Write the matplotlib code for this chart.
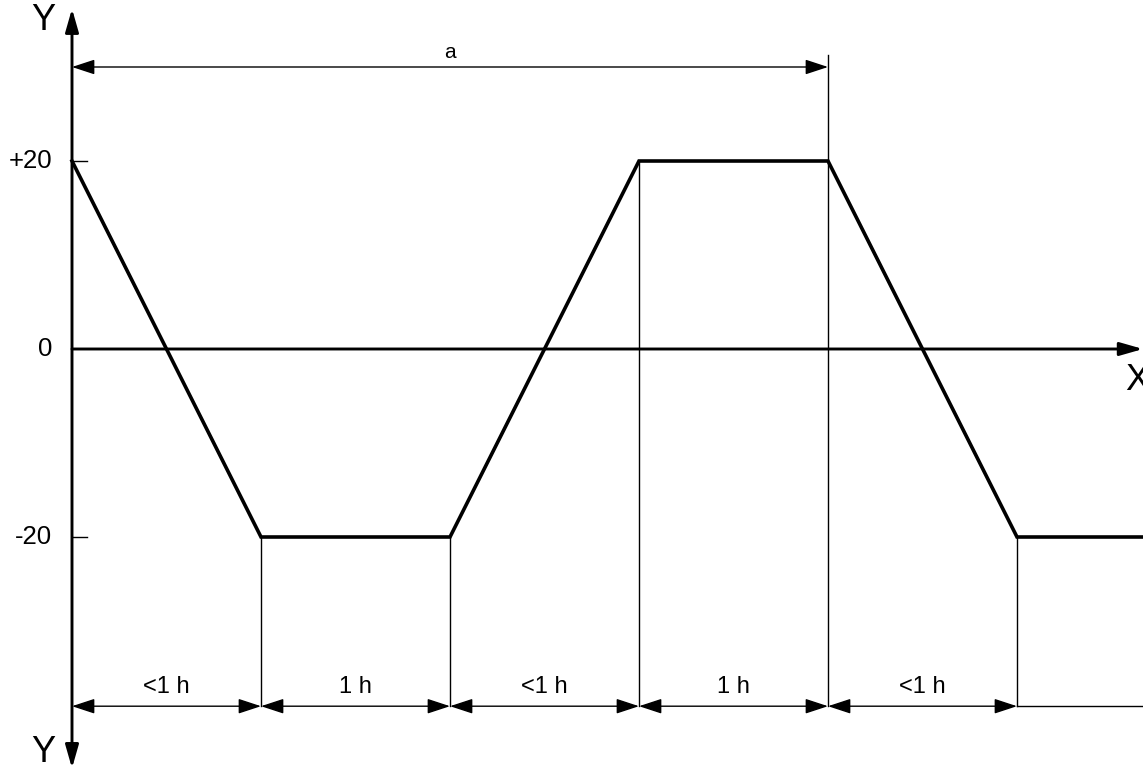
import matplotlib
matplotlib.use("Agg")
import matplotlib.pyplot as plt

plt.rcParams['font.family'] = ['Liberation Sans', 'DejaVu Sans']

# Data (time in hours, temperature)
t_points = [0, 1, 2, 3, 4, 5, 6]
y_points = [20, -20, -20, 20, 20, -20, -20]
ytick_values = [20, 0, -20]
ytick_labels = ['+20', '0', '-20']
dim_bounds = [0, 1, 2, 3, 4, 5]
dim_labels = ['<1 h', '1 h', '<1 h', '1 h', '<1 h']
a_span = [0, 4]
a_label = 'a'

fig = plt.figure(figsize=(11.43, 7.72), dpi=100)
ax = fig.add_axes([0, 0, 1, 1])
ax.set_xlim(-72/189, (1143-72)/189)
ax.set_ylim((349-772)/9.4, 349/9.4)
ax.axis('off')

y_dim = -38
y_a = 30
x_right = (1143-72)/189

axis_arrow = 'head_length=0.7,head_width=0.2'
dim_arrow = 'head_length=0.7,head_width=0.23'

# main curve
ax.plot(t_points, y_points, color='black', lw=2.6, solid_joinstyle='miter', zorder=5)

# axes
ax.annotate('', xy=(0, 36.2), xytext=(0, -44.6),
            arrowprops=dict(arrowstyle='<|-|>,' + axis_arrow, lw=2.1,
                            color='black', shrinkA=0, shrinkB=0, mutation_scale=20))
ax.annotate('', xy=(x_right, 0), xytext=(0, 0),
            arrowprops=dict(arrowstyle='-|>,' + axis_arrow, lw=2.1,
                            color='black', shrinkA=0, shrinkB=0, mutation_scale=20))

# ticks
for v, lab in zip(ytick_values, ytick_labels):
    if v != 0:
        ax.plot([0, 15/189], [v, v], color='black', lw=1)
    ax.text(-20/189, v, lab, ha='right', va='center', fontsize=18.5)

# extension lines
for tx, ty in zip(t_points[1:6], y_points[1:6]):
    ax.plot([tx, tx], [ty, y_dim], color='black', lw=1)
ax.plot([a_span[1], a_span[1]], [y_a + 1.3, 20], color='black', lw=1)

# bottom dimension arrows
for i, lab in enumerate(dim_labels):
    x0, x1 = dim_bounds[i], dim_bounds[i+1]
    ax.annotate('', xy=(x1, y_dim), xytext=(x0, y_dim),
                arrowprops=dict(arrowstyle='<|-|>,' + dim_arrow, lw=1,
                                color='black', shrinkA=0, shrinkB=0, mutation_scale=20))
    ax.text((x0+x1)/2, -36.0, lab, ha='center', va='center', fontsize=17)
ax.plot([dim_bounds[-1], x_right], [y_dim, y_dim], color='black', lw=1)

# top dimension "a"
ax.annotate('', xy=(a_span[1], y_a), xytext=(a_span[0], y_a),
            arrowprops=dict(arrowstyle='<|-|>,' + dim_arrow, lw=1,
                            color='black', shrinkA=0, shrinkB=0, mutation_scale=20))
ax.text((a_span[0]+a_span[1])/2, 31.5, a_label, ha='center', va='center', fontsize=15)

# axis names
ax.text(-29/189, 34.9, 'Y', ha='center', va='center', fontsize=26)
ax.text(-29/189, -42.9, 'Y', ha='center', va='center', fontsize=26)
ax.text((1125-72)/189, -3.4, 'X', ha='left', va='center', fontsize=26)

fig.savefig('out.png', dpi=100)
